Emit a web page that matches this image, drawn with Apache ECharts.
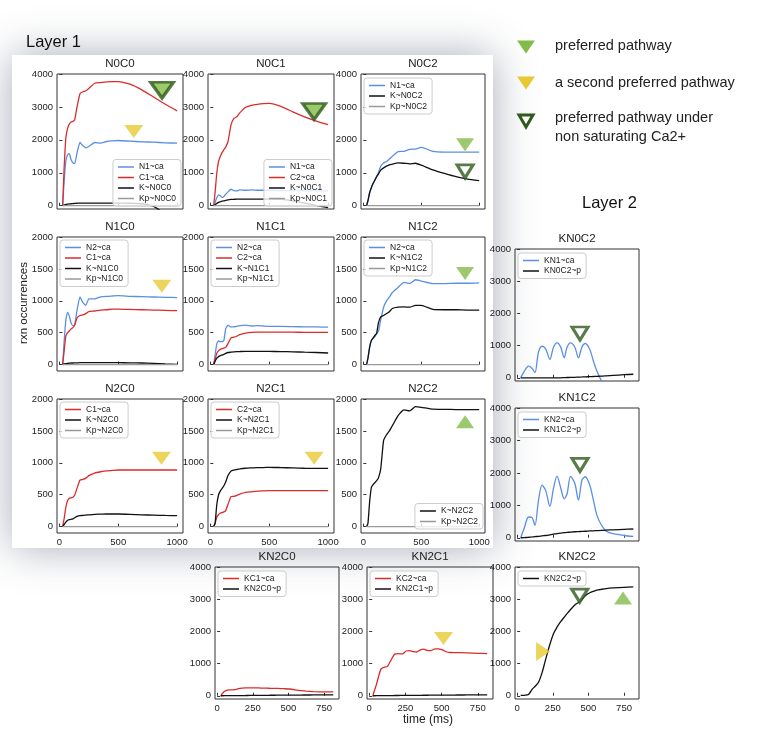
<!DOCTYPE html>
<html><head><meta charset="utf-8">
<script src="https://cdn.jsdelivr.net/npm/echarts@6/dist/echarts.min.js"></script>
<style>html,body{margin:0;padding:0;background:#fff}#c{width:764px;height:730px}</style>
</head><body><div id="c"></div><script>
// ---------------- DATA ----------------
const T1 = [28, 40, 55, 70, 85, 100, 115, 130, 150, 175, 200, 225, 250, 300, 350, 400, 450, 500, 600, 700, 800, 900, 1000];
const T2 = [25, 50, 80, 105, 125, 150, 175, 200, 230, 255, 280, 305, 330, 350, 375, 405, 430, 455, 478, 510, 535, 560, 590, 625, 675, 750, 815];

const xTicks1 = [0, 500, 1000];
const xTicks2 = [0, 250, 500, 750];
const yTicks4000 = [0, 1000, 2000, 3000, 4000];
const yTicks2000 = [0, 500, 1000, 1500, 2000];

const n0c0_N1 = [0, 700, 1350, 1550, 1580, 1400, 1300, 1280, 1600, 1920, 1820, 1760, 1800, 1920, 1900, 1950, 1970, 1980, 1960, 1940, 1930, 1910, 1900];
const n0c0_C1 = [0, 1100, 2050, 2350, 2480, 2540, 2560, 2600, 3000, 3400, 3460, 3490, 3560, 3720, 3740, 3760, 3770, 3770, 3690, 3520, 3300, 3080, 2880];
const n0c0_K  = [0, 20, 40, 50, 55, 60, 65, 70, 75, 80, 80, 80, 80, 80, 80, 80, 80, 78, 75, 60, -20, -250, -450];
const n0c0_Kp = [0, 0, 0, 0, 0, 0, 0, 0, 0, 0, 0, 0, 0, 0, 0, 0, 0, 0, 0, 0, 0, 0, 0];

const n0c1_N1 = [0, 100, 250, 330, 300, 250, 280, 350, 420, 500, 460, 450, 480, 470, 480, 470, 470, 470, 460, 460, 455, 450, 450];
const n0c1_C2 = [0, 400, 1000, 1350, 1500, 1620, 1700, 1780, 1950, 2450, 2650, 2700, 2820, 2990, 3050, 3080, 3100, 3110, 3020, 2850, 2700, 2570, 2460];
const n0c1_K  = [0, 30, 70, 100, 120, 140, 150, 165, 180, 190, 195, 200, 200, 200, 200, 200, 200, 200, 190, 150, 80, 10, -60];
const n0c1_Kp = [0, 0, 0, 0, 0, 0, 0, 0, 0, 0, 0, 0, 0, 0, 0, 0, 0, 0, 0, 0, 0, 0, 0];

const n0c2_N1 = [0, 150, 400, 550, 680, 780, 890, 1000, 1200, 1300, 1340, 1420, 1500, 1640, 1650, 1710, 1720, 1770, 1650, 1630, 1630, 1630, 1630];
const n0c2_K  = [0, 150, 400, 550, 680, 780, 880, 960, 1080, 1150, 1200, 1240, 1260, 1300, 1290, 1270, 1290, 1230, 1090, 980, 880, 810, 760];
const n0c2_Kp = [0, 0, 0, 0, 0, 0, 0, 0, 0, 0, 0, 0, 0, 0, 0, 0, 0, 0, 0, 0, 0, 0, 0];

const n1c0_N2 = [0, 350, 700, 820, 760, 650, 610, 620, 850, 1060, 970, 930, 1030, 1030, 1060, 1070, 1075, 1080, 1070, 1065, 1060, 1055, 1050];
const n1c0_C1 = [0, 200, 450, 500, 530, 560, 580, 620, 730, 770, 780, 800, 830, 840, 855, 860, 870, 870, 865, 860, 855, 850, 845];
const n1c0_K  = [0, 10, 15, 20, 22, 25, 25, 27, 28, 30, 30, 30, 30, 30, 30, 30, 30, 30, 28, 25, 20, 12, 5];
const n1c0_Kp = [0, 0, 0, 0, 0, 0, 0, 0, 0, 0, 0, 0, 0, 0, 0, 0, 0, 0, 0, 0, 0, 0, 0];

const n1c1_N2 = [0, 150, 330, 370, 360, 360, 380, 560, 620, 590, 590, 600, 610, 620, 605, 610, 605, 600, 600, 595, 592, 590, 587];
const n1c1_C2 = [0, 80, 180, 220, 240, 250, 260, 270, 330, 420, 430, 445, 470, 495, 505, 508, 508, 508, 508, 508, 506, 505, 505];
const n1c1_K  = [0, 50, 100, 125, 140, 150, 160, 175, 190, 195, 200, 203, 205, 208, 208, 208, 207, 206, 205, 200, 195, 190, 182];
const n1c1_Kp = [0, 0, 0, 0, 0, 0, 0, 0, 0, 0, 0, 0, 0, 0, 0, 0, 0, 0, 0, 0, 0, 0, 0];

const n1c2_N2 = [0, 100, 280, 380, 410, 440, 480, 520, 700, 900, 1000, 1060, 1130, 1210, 1290, 1270, 1330, 1310, 1270, 1270, 1275, 1275, 1280];
const n1c2_K  = [0, 100, 280, 380, 420, 460, 490, 650, 750, 770, 800, 830, 880, 900, 905, 900, 930, 930, 865, 860, 860, 855, 855];
const n1c2_Kp = [0, 0, 0, 0, 0, 0, 0, 0, 0, 0, 0, 0, 0, 0, 0, 0, 0, 0, 0, 0, 0, 0, 0];

const n2c0_C1 = [0, 120, 300, 410, 445, 450, 460, 490, 600, 730, 740, 760, 800, 840, 860, 875, 880, 887, 887, 887, 887, 887, 887];
const n2c0_K  = [0, 30, 70, 100, 110, 115, 120, 140, 160, 172, 175, 180, 185, 193, 195, 198, 198, 198, 193, 185, 180, 175, 172];
const n2c0_Kp = [0, 0, 0, 0, 0, 0, 0, 0, 0, 0, 0, 0, 0, 0, 0, 0, 0, 0, 0, 0, 0, 0, 0];

const n2c1_C2 = [0, 50, 150, 190, 210, 220, 230, 250, 350, 470, 475, 490, 510, 535, 545, 555, 560, 565, 565, 565, 564, 564, 564];
const n2c1_K  = [0, 50, 350, 500, 560, 600, 640, 700, 800, 870, 885, 895, 905, 915, 920, 925, 925, 930, 925, 920, 915, 913, 913];
const n2c1_Kp = [0, 0, 0, 0, 0, 0, 0, 0, 0, 0, 0, 0, 0, 0, 0, 0, 0, 0, 0, 0, 0, 0, 0];

const n2c2_K  = [0, 50, 400, 620, 660, 690, 720, 760, 900, 1350, 1440, 1500, 1580, 1740, 1830, 1815, 1880, 1870, 1840, 1837, 1835, 1835, 1835];
const n2c2_Kp = [0, 0, 0, 0, 0, 0, 0, 0, 0, 0, 0, 0, 0, 0, 0, 0, 0, 0, 0, 0, 0, 0, 0];

const kn0c2_KN1 = [0, 200, 360, 290, 160, 800, 980, 900, 570, 950, 1085, 960, 620, 950, 1085, 950, 620, 960, 1065, 880, 520, 200, -80, -300, -300, -300, -300];
const kn0c2_p   = [0, 0, 0, 0, 0, 0, 0, 0, 0, 0, 0, 0, 5, 8, 10, 15, 20, 25, 30, 35, 40, 45, 50, 60, 75, 95, 110];
const kn1c2_KN2 = [0, 300, 640, 620, 380, 1160, 1620, 1460, 970, 1520, 1900, 1550, 1200, 1350, 1890, 1675, 1160, 1780, 1880, 1620, 1160, 690, 400, 200, 125, 70, 40];
const kn1c2_p   = [0, 5, 15, 25, 35, 45, 60, 70, 90, 110, 130, 145, 155, 165, 175, 185, 190, 195, 200, 210, 215, 220, 225, 235, 245, 260, 270];
const kn2c0_KC1 = [0, 130, 180, 185, 190, 225, 240, 245, 248, 248, 245, 240, 237, 235, 232, 230, 227, 222, 218, 210, 195, 175, 160, 145, 132, 124, 124];
const kn2c0_p   = [0, 2, 3, 4, 5, 6, 7, 8, 10, 11, 12, 13, 14, 15, 16, 17, 18, 19, 19, 20, 21, 22, 23, 24, 26, 28, 30];
const kn2c1_KC2 = [0, 350, 820, 890, 905, 1100, 1290, 1310, 1300, 1390, 1400, 1370, 1360, 1420, 1450, 1400, 1410, 1460, 1455, 1420, 1360, 1345, 1340, 1340, 1335, 1320, 1310];
const kn2c1_p   = [0, 2, 4, 5, 6, 7, 8, 9, 10, 11, 12, 13, 14, 15, 16, 17, 18, 19, 20, 21, 22, 22, 23, 24, 26, 28, 30];
const kn2c2_p   = [10, 15, 40, 200, 290, 420, 720, 1130, 1600, 1930, 2130, 2300, 2440, 2550, 2680, 2820, 2900, 3000, 3110, 3200, 3245, 3280, 3305, 3330, 3350, 3370, 3380];

// annotation markers: [panel, time, value]
const preferredDown = [['N0C2', 878, 1850], ['N1C2', 878, 1427]];
const preferredUp = [['N2C2', 878, 1644], ['KN2C2', 743, 3035]];
const secondDown = [['N0C0', 632, 2250], ['N1C0', 870, 1230], ['N2C0', 867, 1070], ['N2C1', 881, 1070], ['KN2C1', 513, 1780]];
const secondRight = [['KN2C2', 182, 1378]];
const nonSatFilled = [['N0C0', 872, 3510], ['N0C1', 881, 2860]];
const nonSatHollow = [['N0C2', 878, 1040], ['KN0C2', 441, 1375], ['KN1C2', 441, 2245], ['KN2C2', 439, 3110]];

// ---------------- STYLE / LAYOUT ----------------
const BLUE = '#5b8fe4', RED = '#dc2b2b', BLACK = '#111111', GRAY = '#9a9a9a';
const LG = '#82bb47', YEL = '#e8c934', DG = '#2e5a1c';
const FONT = '"Liberation Sans", Arial, Helvetica, sans-serif';

const panels = [
  {title:'N0C0', box:[57,74,126,135], t:T1, yMax:4000, yT:yTicks4000, xT:xTicks1, xMin:-20, xMax:1050, xl:false,
   lines:[['N1~ca',n0c0_N1,BLUE],['C1~ca',n0c0_C1,RED],['K~N0C0',n0c0_K,BLACK],['Kp~N0C0',n0c0_Kp,GRAY]], leg:{right:583, bottom:524}},
  {title:'N0C1', box:[208,74,126,135], t:T1, yMax:4000, yT:yTicks4000, xT:xTicks1, xMin:-20, xMax:1050, xl:false,
   lines:[['N1~ca',n0c1_N1,BLUE],['C2~ca',n0c1_C2,RED],['K~N0C1',n0c1_K,BLACK],['Kp~N0C1',n0c1_Kp,GRAY]], leg:{right:432, bottom:524}},
  {title:'N0C2', box:[361,74,124,135], t:T1, yMax:4000, yT:yTicks4000, xT:xTicks1, xMin:-20, xMax:1050, xl:false,
   lines:[['N1~ca',n0c2_N1,BLUE],['K~N0C2',n0c2_K,BLACK],['Kp~N0C2',n0c2_Kp,GRAY]], leg:{left:364, top:78}},
  {title:'N1C0', box:[57,237,126,134], t:T1, yMax:2000, yT:yTicks2000, xT:xTicks1, xMin:-20, xMax:1050, xl:false,
   lines:[['N2~ca',n1c0_N2,BLUE],['C1~ca',n1c0_C1,RED],['K~N1C0',n1c0_K,BLACK],['Kp~N1C0',n1c0_Kp,GRAY]], leg:{left:60, top:240}},
  {title:'N1C1', box:[208,237,126,134], t:T1, yMax:2000, yT:yTicks2000, xT:xTicks1, xMin:-20, xMax:1050, xl:false,
   lines:[['N2~ca',n1c1_N2,BLUE],['C2~ca',n1c1_C2,RED],['K~N1C1',n1c1_K,BLACK],['Kp~N1C1',n1c1_Kp,GRAY]], leg:{left:211, top:240}},
  {title:'N1C2', box:[361,237,124,134], t:T1, yMax:2000, yT:yTicks2000, xT:xTicks1, xMin:-20, xMax:1050, xl:false,
   lines:[['N2~ca',n1c2_N2,BLUE],['K~N1C2',n1c2_K,BLACK],['Kp~N1C2',n1c2_Kp,GRAY]], leg:{left:364, top:240}},
  {title:'N2C0', box:[57,399,126,134], t:T1, yMax:2000, yT:yTicks2000, xT:xTicks1, xMin:-20, xMax:1050, xl:true,
   lines:[['C1~ca',n2c0_C1,RED],['K~N2C0',n2c0_K,BLACK],['Kp~N2C0',n2c0_Kp,GRAY]], leg:{left:60, top:402}},
  {title:'N2C1', box:[208,399,126,134], t:T1, yMax:2000, yT:yTicks2000, xT:xTicks1, xMin:-20, xMax:1050, xl:true,
   lines:[['C2~ca',n2c1_C2,RED],['K~N2C1',n2c1_K,BLACK],['Kp~N2C1',n2c1_Kp,GRAY]], leg:{left:211, top:402}},
  {title:'N2C2', box:[361,399,124,134], t:T1, yMax:2000, yT:yTicks2000, xT:xTicks1, xMin:-20, xMax:1050, xl:true,
   lines:[['K~N2C2',n2c2_K,BLACK],['Kp~N2C2',n2c2_Kp,GRAY]], leg:{right:281, bottom:201}},
  {title:'KN0C2', box:[515,249,124,132], t:T2, yMax:4000, yT:yTicks4000, xT:xTicks2, xMin:-15, xMax:855, xl:false,
   lines:[['KN1~ca',kn0c2_KN1,BLUE],['KN0C2~p',kn0c2_p,BLACK]], leg:{left:518, top:253}, smooth:0.3},
  {title:'KN1C2', box:[515,408,124,133], t:T2, yMax:4000, yT:yTicks4000, xT:xTicks2, xMin:-15, xMax:855, xl:false,
   lines:[['KN2~ca',kn1c2_KN2,BLUE],['KN1C2~p',kn1c2_p,BLACK]], leg:{left:518, top:412}, smooth:0.3},
  {title:'KN2C0', box:[215,567,124,132], t:T2, yMax:4000, yT:yTicks4000, xT:xTicks2, xMin:-15, xMax:855, xl:true,
   lines:[['KC1~ca',kn2c0_KC1,RED],['KN2C0~p',kn2c0_p,BLACK]], leg:{left:218, top:571}},
  {title:'KN2C1', box:[367,567,126,132], t:T2, yMax:4000, yT:yTicks4000, xT:xTicks2, xMin:-15, xMax:855, xl:true,
   lines:[['KC2~ca',kn2c1_KC2,RED],['KN2C1~p',kn2c1_p,BLACK]], leg:{left:370, top:571}},
  {title:'KN2C2', box:[515,567,124,132], t:T2, yMax:4000, yT:yTicks4000, xT:xTicks2, xMin:-15, xMax:855, xl:true,
   lines:[['KN2C2~p',kn2c2_p,BLACK]], leg:{left:518, top:571}, smooth:0.3}
];

const DOWN = 'path://M0,0L20,0L10,14Z';
const UP = 'path://M10,0L20,14L0,14Z';
const RIGHT = 'path://M0,0L14,10L0,20Z';
const markerSets = [
  {list:preferredDown, symbol:DOWN, size:[18,13], style:{color:LG}},
  {list:preferredUp, symbol:UP, size:[18,13], style:{color:LG}},
  {list:secondDown, symbol:DOWN, size:[19,13], style:{color:YEL}},
  {list:secondRight, symbol:RIGHT, size:[14,19], style:{color:YEL}},
  {list:nonSatFilled, symbol:DOWN, size:[23,16], style:{color:LG, borderColor:DG, borderWidth:3}},
  {list:nonSatHollow, symbol:DOWN, size:[16,13], style:{color:'#ffffff', borderColor:DG, borderWidth:3}}
];

// ---------------- BUILD ----------------
const grid = [], xAxis = [], yAxis = [], series = [], legend = [], graphic = [];
const plain = v => String(v);

graphic.push({type:'rect', z:-100, shape:{x:12, y:55, width:481, height:493},
  style:{fill:'#ffffff', shadowBlur:40, shadowColor:'rgba(60,70,95,0.45)'}});

panels.forEach((p, i) => {
  const [l, t, w, h] = p.box;
  grid.push({left:l, top:t, width:w, height:h, show:true, borderColor:'#333', borderWidth:1, backgroundColor:'transparent'});
  xAxis.push({type:'value', gridIndex:i, min:p.xMin, max:p.xMax,
    axisLine:{show:false}, splitLine:{show:false},
    axisTick:{show:true, inside:true, length:3, lineStyle:{color:'#333'}, customValues:p.xT},
    axisLabel:{show:p.xl, customValues:p.xT, formatter:plain, fontSize:9.5, color:'#222', margin:4, fontFamily:FONT}});
  yAxis.push({type:'value', gridIndex:i, min:-100, max:p.yMax,
    axisLine:{show:false}, splitLine:{show:false},
    axisTick:{show:true, inside:true, length:3, lineStyle:{color:'#333'}, customValues:p.yT},
    axisLabel:{show:true, customValues:p.yT, formatter:plain, fontSize:9.5, color:'#222', margin:4, fontFamily:FONT}});
  p.lines.forEach(([name, arr, color]) => {
    series.push({type:'line', name:name, xAxisIndex:i, yAxisIndex:i, symbol:'none', smooth:p.smooth || 0.15,
      clip:true, silent:true, animation:false,
      lineStyle:{color:color, width:1.3}, itemStyle:{color:color},
      data:p.t.map((x, k) => [x, arr[k]])});
  });
  legend.push(Object.assign({data:p.lines.map(d => d[0]), orient:'vertical', selectedMode:false,
    icon:'rect', itemWidth:16, itemHeight:1.5, itemGap:1.5, padding:[3,5,3,5],
    textStyle:{fontSize:8.5, color:'#222', fontFamily:FONT},
    backgroundColor:'rgba(255,255,255,0.8)', borderColor:'#cccccc', borderWidth:1, borderRadius:3}, p.leg));
  graphic.push({type:'text', x:l + w / 2, y:t - 10.5, z:10,
    style:{text:p.title, fill:'#222', font:'11.5px ' + FONT, textAlign:'center', textVerticalAlign:'middle'}});
});

const panelIndex = name => panels.findIndex(p => p.title === name);
markerSets.forEach(ms => {
  ms.list.forEach(([pn, x, y]) => {
    const i = panelIndex(pn);
    series.push({type:'scatter', name:'_mk', xAxisIndex:i, yAxisIndex:i, symbol:ms.symbol, symbolSize:ms.size,
      silent:true, animation:false, z:6, itemStyle:ms.style, data:[[x, y]]});
  });
});

// header legend of pathway markers
const tri = (cx, cy, w, h) => [[cx - w / 2, cy - h / 2], [cx + w / 2, cy - h / 2], [cx, cy + h / 2]];
graphic.push({type:'polygon', shape:{points:tri(526, 47, 18, 13)}, style:{fill:LG}});
graphic.push({type:'polygon', shape:{points:tri(526, 83, 18, 13)}, style:{fill:YEL}});
graphic.push({type:'polygon', shape:{points:tri(526, 121, 14, 12)}, style:{fill:'#fff', stroke:DG, lineWidth:3, lineJoin:'miter'}});
const headTxt = [['preferred pathway', 46], ['a second preferred pathway', 83], ['preferred pathway under', 118], ['non saturating Ca2+', 137]];
headTxt.forEach(([s, y]) => graphic.push({type:'text', x:555, y:y,
  style:{text:s, font:'14.5px ' + FONT, fill:'#222', textVerticalAlign:'middle'}}));
graphic.push({type:'text', x:26, y:42, style:{text:'Layer 1', font:'16.5px ' + FONT, fill:'#111', textVerticalAlign:'middle'}});
graphic.push({type:'text', x:582, y:203, style:{text:'Layer 2', font:'16.5px ' + FONT, fill:'#111', textVerticalAlign:'middle'}});
graphic.push({type:'text', x:24, y:303, rotation:Math.PI / 2,
  style:{text:'rxn occurrences', font:'11.5px ' + FONT, fill:'#222', textAlign:'center', textVerticalAlign:'middle'}});
graphic.push({type:'text', x:428, y:720,
  style:{text:'time (ms)', font:'12px ' + FONT, fill:'#222', textAlign:'center', textVerticalAlign:'middle'}});

const chart = echarts.init(document.getElementById('c'), null, {renderer:'canvas'});
chart.setOption({
  animation:false,
  backgroundColor:'#ffffff',
  textStyle:{fontFamily:FONT},
  grid:grid, xAxis:xAxis, yAxis:yAxis, series:series, legend:legend, graphic:graphic
});
</script></body></html>
